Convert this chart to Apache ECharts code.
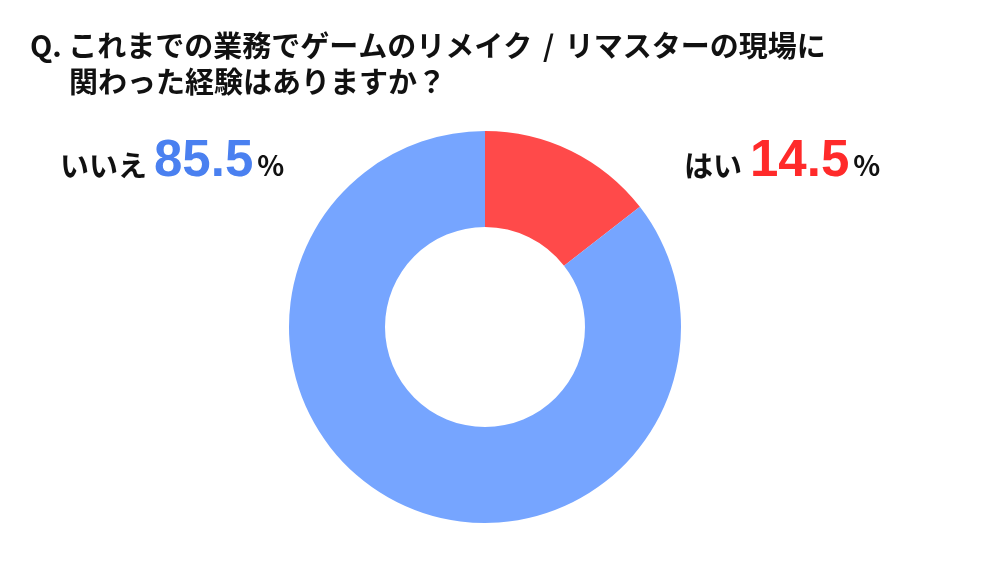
<!DOCTYPE html>
<html><head><meta charset="utf-8">
<script src="https://cdn.jsdelivr.net/npm/echarts@6/dist/echarts.min.js"></script>
<style>html,body{margin:0;padding:0;background:#fff}#c{width:1000px;height:563px}</style>
</head><body><div id="c"></div>
<script>
const titleLine1Parts = ['Q. これまでの業務でゲームのリメイク', '/', 'リマスターの現場に'];
const titleLine2 = '関わった経験はありますか？';
const categories = ['はい', 'いいえ'];
const values = [14.5, 85.5];
const sliceColors = ['#FF4A4A', '#76A5FF'];
const labelColors = ['#FF2A2A', '#4A80F0'];

const chart = echarts.init(document.getElementById('c'), null, {renderer: 'canvas'});
const font = '"Noto Sans CJK JP", "Noto Sans", sans-serif';
const tStyle = {fontFamily: font, fontWeight: 'bold', fontSize: 29, color: '#111'};
function labelTitle(i, left, top, gap) {
  return {
    left: left, top: top, padding: 0,
    text: '{a|' + categories[i] + '}{s|}{b|' + values[i].toFixed(1) + '}{s2|}{c|%}',
    textStyle: {
      rich: {
        a: {fontFamily: font, fontWeight: 'bold', fontSize: 29, color: '#111', verticalAlign: 'bottom', padding: [0,0,7,0]},
        s: {width: gap, fontSize: 10},
        s2: {width: 4, fontSize: 10},
        b: {fontFamily: '"Liberation Sans", Arial, sans-serif', fontWeight: 'bold', fontSize: 51, color: labelColors[i], verticalAlign: 'bottom'},
        c: {fontFamily: font, fontSize: 28, color: '#111', verticalAlign: 'bottom', padding: [0,0,8,0]}
      }
    }
  };
}
chart.setOption({
  animation: false,
  backgroundColor: '#fff',
  title: [
    {left: 30, top: 31, padding: 0,
     text: '{t|' + titleLine1Parts[0] + '}{t| }{g|' + titleLine1Parts[1] + '}{t| }{t|' + titleLine1Parts[2] + '}',
     textStyle: {rich: {t: tStyle, g: Object.assign({}, tStyle, {padding: [0, 4, 0, 4]})}}},
    {left: 69, top: 67, padding: 0, text: titleLine2, textStyle: tStyle},
    labelTitle(1, 60, 136, 7),
    labelTitle(0, 684, 136, 8)
  ],
  series: [{
    type: 'pie',
    center: [485, 327],
    radius: [100, 196],
    startAngle: 90,
    clockwise: true,
    label: {show: false},
    labelLine: {show: false},
    emphasis: {disabled: true},
    itemStyle: {borderWidth: 0},
    data: categories.map((c, i) => ({name: c, value: values[i], itemStyle: {color: sliceColors[i]}}))
  }]
});
</script></body></html>
